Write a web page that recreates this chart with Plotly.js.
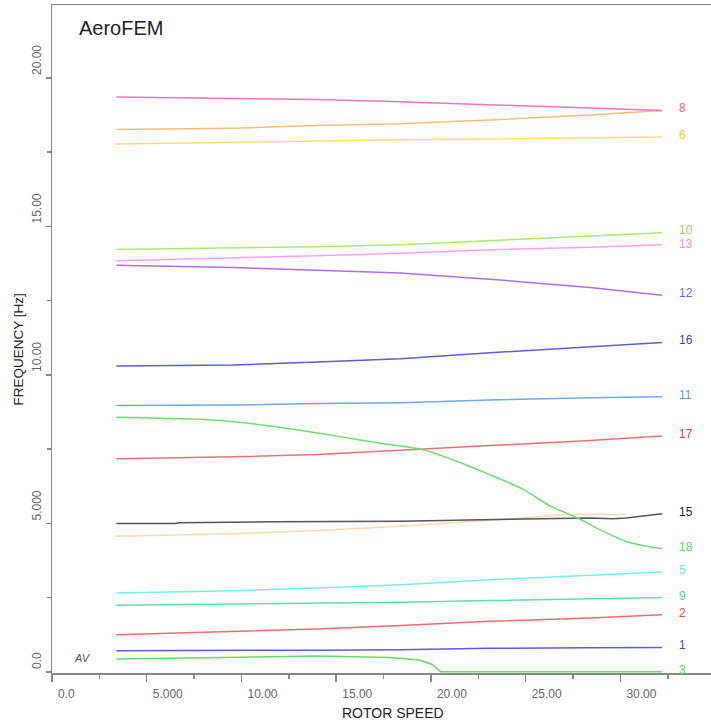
<!DOCTYPE html>
<html><head><meta charset="utf-8">
<script src="https://cdn.plot.ly/plotly-3.0.1.min.js"></script>
<style>html,body{margin:0;padding:0;background:#fff}#chart{width:711px;height:722px}</style>
</head><body><div id="chart"></div>
<script>
// Rotor speed samples (common grid)
const speed = [3.4, 9.6, 14.0, 18.4, 23.1, 28.4, 32.2];
const mode8  = [19.35, 19.31, 19.27, 19.19, 19.10, 18.98, 18.90];
const mode7  = [18.26, 18.30, 18.39, 18.45, 18.58, 18.75, 18.90];
const mode6  = [17.77, 17.83, 17.89, 17.91, 17.94, 17.98, 18.01];
const mode10 = [14.22, 14.26, 14.31, 14.38, 14.51, 14.65, 14.78];
const mode13 = [13.84, 13.93, 14.01, 14.09, 14.21, 14.29, 14.38];
const mode12 = [13.69, 13.61, 13.52, 13.43, 13.22, 12.94, 12.68];
const mode16 = [10.30, 10.33, 10.43, 10.54, 10.74, 10.94, 11.09];
const mode11 = [8.97, 8.98, 9.03, 9.06, 9.15, 9.23, 9.26];
const mode17 = [7.17, 7.24, 7.32, 7.46, 7.62, 7.79, 7.94];
const mode5  = [2.65, 2.73, 2.82, 2.93, 3.10, 3.24, 3.36];
const mode9  = [2.24, 2.28, 2.29, 2.34, 2.40, 2.46, 2.50];
const mode2  = [1.25, 1.36, 1.44, 1.56, 1.70, 1.81, 1.92];
const mode1  = [0.71, 0.71, 0.73, 0.74, 0.79, 0.81, 0.82];

const speed18 = [3.4, 7.8, 9.6, 12.2, 14.8, 17.5, 19.5, 21.35, 23.1, 24.87, 26.3, 27.6, 29.1, 30.3, 32.2];
const mode18  = [8.57, 8.50, 8.42, 8.22, 7.96, 7.68, 7.49, 7.09, 6.64, 6.14, 5.58, 5.22, 4.73, 4.39, 4.14];

const speed15 = [3.4, 6.5, 6.7, 11.6, 11.8, 18.4, 23.1, 28.4, 29.6, 30.3, 32.2];
const mode15  = [4.99, 4.99, 5.02, 5.03, 5.05, 5.07, 5.13, 5.18, 5.15, 5.18, 5.32];

const speed4 = [3.4, 9.6, 14.0, 18.4, 23.1, 27.2, 30.3];
const mode4  = [4.56, 4.65, 4.76, 4.90, 5.10, 5.30, 5.30];

const speed3 = [3.4, 9.6, 14.0, 17.8, 19.4, 20.1, 20.5, 32.2];
const mode3  = [0.43, 0.50, 0.53, 0.48, 0.40, 0.24, 0.0, 0.0];

const xTickVals = [0, 5, 10, 15, 20, 25, 30];
const xTickText = ['0.0\u00a0\u00a0\u00a0\u00a0', '5.000', '10.00', '15.00', '20.00', '25.00', '30.00'];
const yTickVals = [0, 5, 10, 15, 20];
const yTickText = ['0.0\u00a0\u00a0\u00a0\u00a0', '5.000', '10.00', '15.00', '20.00'];

const series = [
  {x: speed4,  y: mode4,  color: '#ffd9ad', label: null},
  {x: speed,   y: mode6,  color: '#ffdc78', label: '6',  lc: '#ffc933'},
  {x: speed,   y: mode7,  color: '#ffbb7a', label: null},
  {x: speed,   y: mode8,  color: '#ff72b8', label: '8',  lc: '#ff5a86'},
  {x: speed,   y: mode10, color: '#a8ec68', label: '10', lc: '#8fdc3c', dy: 1},
  {x: speed,   y: mode13, color: '#ffa0f5', label: '13', lc: '#f08ef0', dy: -1},
  {x: speed,   y: mode12, color: '#aa70f0', label: '12', lc: '#8a55e0'},
  {x: speed,   y: mode16, color: '#5c5ce6', label: '16', lc: '#3f3fd0'},
  {x: speed,   y: mode11, color: '#70a8f5', label: '11', lc: '#5599ee'},
  {x: speed,   y: mode17, color: '#f07070', label: '17', lc: '#ee3333'},
  {x: speed15, y: mode15, color: '#555555', label: '15', lc: '#222222'},
  {x: speed18, y: mode18, color: '#6ee06e', label: '18', lc: '#55dd55', smooth: true},
  {x: speed,   y: mode5,  color: '#74eef0', label: '5',  lc: '#66e8ee'},
  {x: speed,   y: mode9,  color: '#60e0a0', label: '9',  lc: '#44dd88'},
  {x: speed,   y: mode2,  color: '#f06c6c', label: '2',  lc: '#ee4444'},
  {x: speed,   y: mode1,  color: '#5c5ce0', label: '1',  lc: '#4444cc'},
  {x: speed3,  y: mode3,  color: '#66dd66', label: '3',  lc: '#55dd55'}
];

const traces = series.map(s => ({
  type: 'scatter', mode: 'lines', x: s.x, y: s.y,
  line: {color: s.color, width: 1.5, shape: s.smooth ? 'spline' : 'linear', smoothing: 0.8},
  hoverinfo: 'skip', showlegend: false
}));

const font = 'Liberation Sans, Arial, sans-serif';
const annotations = series.filter(s => s.label).map(s => ({
  x: 33.0, y: s.y[s.y.length - 1], xref: 'x', yref: 'y',
  text: s.label, showarrow: false, xanchor: 'left', yanchor: 'middle', yshift: 2 + (s.dy || 0),
  font: {family: font, size: 12, color: s.lc}
}));
annotations.push(
  {xref: 'paper', yref: 'paper', x: 0.0379, y: 0.9655, xanchor: 'left', yanchor: 'middle',
   text: 'AeroFEM', showarrow: false, font: {family: font, size: 20, color: '#222'}},
  {xref: 'paper', yref: 'paper', x: 0.5175, y: -0.06, xanchor: 'center', yanchor: 'middle',
   text: 'ROTOR SPEED', showarrow: false, font: {family: font, size: 14, color: '#222'}},
  {xref: 'paper', yref: 'paper', x: -0.0516, y: 0.4843, xanchor: 'center', yanchor: 'middle',
   text: 'FREQUENCY [Hz]', textangle: -90, showarrow: false, font: {family: font, size: 13.5, color: '#222'}},
  {xref: 'x', yref: 'y', x: 1.61, y: 0.47, xanchor: 'center', yanchor: 'middle',
   text: '<i>AV</i>', showarrow: false, font: {family: font, size: 11, color: '#555'}}
);

const layout = {
  width: 711, height: 722,
  margin: {l: 52, r: 0, t: 5, b: 49},
  paper_bgcolor: '#fff', plot_bgcolor: '#fff',
  showlegend: false,
  font: {family: font},
  xaxis: {
    range: [0, 34.78], showgrid: false, zeroline: false,
    showline: true, linecolor: '#888', linewidth: 1.5, mirror: true,
    layer: 'below traces',
    ticks: 'outside', ticklen: 7, tickcolor: '#888', tickwidth: 1.5,
    tickvals: xTickVals, ticktext: xTickText, ticklabelshift: 21, ticklabelstandoff: 2,
    tickfont: {family: font, size: 12, color: '#666'},
    minor: {dtick: 2.5, tick0: 0, ticks: 'outside', ticklen: 4, tickcolor: '#888', tickwidth: 1.5, showgrid: false}
  },
  yaxis: {
    range: [-0.04, 22.45], showgrid: false, zeroline: false,
    showline: true, linecolor: '#888', linewidth: 1.5,
    layer: 'below traces',
    ticks: 'outside', ticklen: 5, tickcolor: '#888', tickwidth: 1.5,
    tickvals: yTickVals, ticktext: yTickText, tickangle: -90, ticklabelshift: -16, ticklabelstandoff: 0,
    tickfont: {family: font, size: 12, color: '#666'},
    minor: {dtick: 2.5, tick0: 0, ticks: 'outside', ticklen: 4, tickcolor: '#888', tickwidth: 1.5, showgrid: false}
  },
  annotations: annotations
};

Plotly.newPlot('chart', traces, layout, {displayModeBar: false, staticPlot: true});
</script>
</body></html>
